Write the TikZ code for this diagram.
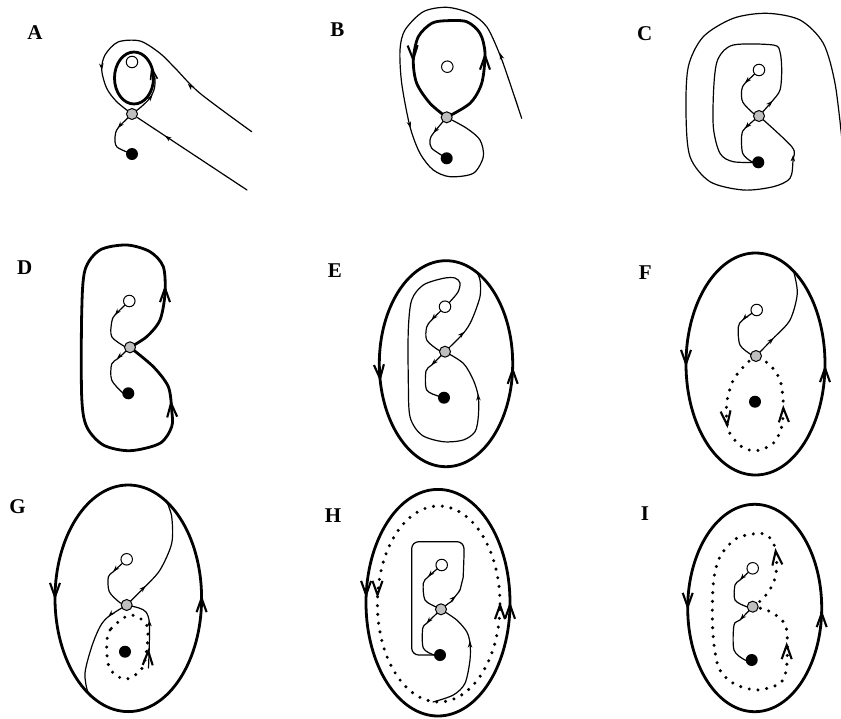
\documentclass[tikz,border=0pt]{standalone}
\usepackage{fontspec}
\setmainfont{Liberation Serif}
\usetikzlibrary{arrows.meta}
\pgfdeclarelayer{bg}
\pgfsetlayers{bg,main}
\tikzset{
  thinl/.style={line width=1.2pt, line cap=round, line join=round},
  thickl/.style={line width=2.8pt, line join=round},
  dotl/.style={line width=3.4pt, line cap=round, dash pattern=on 0pt off 8.8pt},
  mysarr/.tip={Stealth[length=6.5pt,width=4.5pt]},
  mybarb/.tip={Straight Barb[length=14pt,width=10pt,line width=2.1pt]},
  mysbarb/.tip={Straight Barb[length=11pt,width=7pt,line width=1.6pt]},
  tipS/.style={line width=0.8pt, -{mysarr}},
  tipB/.style={line width=1.2pt, -{mybarb}},
  tipb/.style={line width=1.2pt, -{mysbarb}},
  src/.style={circle, draw, fill=white, line width=1pt, minimum size=11.5pt, inner sep=0pt},
  sad/.style={circle, draw, fill=gray!50, line width=1pt, minimum size=11pt, inner sep=0pt},
  snk/.style={circle, fill=black, minimum size=12pt, inner sep=0pt},
  lab/.style={font=\fontsize{21}{21}\selectfont\bfseries, inner sep=0pt},
}
\begin{document}
\begin{tikzpicture}[x=1pt,y=-1pt]
\useasboundingbox (0,0) rectangle (841,718);
% ---------- labels
\node[lab] (LA) at (35,33) {A};
\node[lab] (LB) at (337.5,30) {B};
\node[lab] (LC) at (644.7,33.3) {C};
\node[lab] (LD) at (24.7,267.5) {D};
\node[lab] (LE) at (335,270.5) {E};
\node[lab] (LF) at (645.3,272.3) {F};
\node[lab] (LG) at (17.5,506.2) {G};
\node[lab] (LH) at (333,515.8) {H};
\node[lab] (LI) at (645,514) {I};
% ---------- fixed points
\node[src] (oA) at (132,62) {};   \node[sad] (sA) at (132,114) {};   \node[snk] (kA) at (132,154) {};
\node[src] (oB) at (447.3,66.7) {}; \node[sad] (sB) at (446.7,117.3) {}; \node[snk] (kB) at (446.7,158.3) {};
\node[src] (oC) at (759,70) {};   \node[sad] (sC) at (759,116) {};   \node[snk] (kC) at (758.3,162.3) {};
\node[src] (oD) at (129.3,301) {}; \node[sad] (sD) at (130,347.3) {}; \node[snk] (kD) at (128.3,393.3) {};
\node[src] (oE) at (445,306.7) {}; \node[sad] (sE) at (445,351.7) {}; \node[snk] (kE) at (444,397.7) {};
\node[src] (oF) at (756.7,310) {}; \node[sad] (sF) at (756,356) {};   \node[snk] (kF) at (755,401.7) {};
\node[src] (oG) at (126.7,559.3) {}; \node[sad] (sG) at (126.7,605) {}; \node[snk] (kG) at (125,651.7) {};
\node[src] (oH) at (441.7,565) {}; \node[sad] (sH) at (441,609.3) {}; \node[snk] (kH) at (440,655) {};
\node[src] (oI) at (752.7,568.3) {}; \node[sad] (sI) at (752.7,606.7) {}; \node[snk] (kI) at (751.7,660) {};

\begin{pgfonlayer}{bg}
% ================= A
\draw[thickl] (134,78) ellipse [x radius=19.5pt, y radius=26pt];
\draw[tipb] (151.8,68.5) -- (151.3,66);
\draw[thinl] plot[smooth] coordinates {(sA) (141,107) (150,98) (154.5,88) (155,78)};
\draw[tipS] (150.5,97.5) -- (152.5,95);
\draw[thinl] plot[smooth] coordinates {(251.7,131.7) (200,93.3) (175,68) (160,53.3) (140,41) (118,42) (105,55) (101.7,70) (106.7,88.3) (116.7,101.7) (sA)};
\draw[tipS] (190,86) -- (188,84);
\draw[tipS] (101.6,67) -- (101.8,70);
\draw[thinl] (247,190) -- (sA);
\draw[tipS] (167,137.2) -- (165,135.8);
\draw[thinl] plot[smooth] coordinates {(sA) (118,128) (115,137) (117,147) (kA)};
\draw[tipS] (120,125.5) -- (118,128);
% ================= B
\draw[thickl] plot[smooth] coordinates {(sB) (470,103.3) (481.7,83.3) (485,53.3) (480,33.3) (466.7,21.7) (446.7,20.7) (431.7,23.3) (418.3,36.7) (413.3,60) (416.7,83.3) (430,103.3) (sB)};
\draw[tipB] (485,55) -- (485,52.5);
\draw[tipB] (413.2,60) -- (413.3,62.5);
\draw[thinl] plot[smooth] coordinates {(521.7,118.3) (510,83.3) (500,55) (486.7,26.7) (470,13.3) (446.7,7.3) (423.3,11.7) (405,30) (400,50) (401.7,83.3) (410,126.7) (420,153.3) (433.3,170) (450,176.7) (473.3,173.3) (483.3,156.7) (480,140) (466.7,128.3) (sB)};
\draw[tipS] (501,56) -- (500,53);
\draw[tipS] (409.7,125) -- (410.5,128);
\draw[thinl] plot[smooth] coordinates {(sB) (433.3,133.3) (430,140) (431.7,148.3) (kB)};
\draw[tipS] (435.5,130.5) -- (433.5,133);
% ================= C
\draw[thinl] plot[smooth] coordinates {(oC) (745,83.3) (741.7,90) (742.7,102) (753.3,113.3) (sC)};
\draw[tipS] (747,81) -- (745,83);
\draw[thinl] plot[smooth] coordinates {(sC) (745,128.3) (741.7,135) (742.7,153.3) (751.7,161.7) (kC)};
\draw[tipS] (747,126.3) -- (745,128.5);
\draw[thinl] plot[smooth] coordinates {(sC) (771.7,101.7) (780,90) (781.7,70) (780,52) (773.3,45) (733.3,45) (718.3,58.3) (714,83.3) (713.3,126.7) (720,153.3) (733.3,161.7) (kC)};
\draw[tipS] (770.5,103) -- (772.5,101);
\draw[thinl] plot[smooth] coordinates {(842,140) (835,83.3) (823.3,43.3) (800,20) (766.7,13.3) (733.3,18.3) (703.3,36.7) (688.3,66.7) (686,113.3) (690,156.7) (710,181.7) (743.3,190) (773.3,186.7) (790,178.3) (793,160) (792,147) (sC)};
\draw[tipS] (793,158) -- (793.2,155);
% ================= D
\draw[thickl] plot[smooth] coordinates {(sD) (146.7,336.7) (160,320) (165,293.3) (163.3,266.7) (150,251.7) (126.7,245) (100,250) (85,270) (81.7,313.3) (81.7,396.7) (86.7,426.7) (103.3,445) (130,450.7) (160,443.3) (171.7,426.7) (171.7,410) (168.3,386.7) (153.3,366.7) (sD)};
\draw[tipB] (165,287.5) -- (165,285);
\draw[tipB] (171,402.5) -- (170.8,400);
\draw[thinl] plot[smooth] coordinates {(oD) (115,315) (111.7,322) (111.7,336.7) (125,346.7) (sD)};
\draw[tipS] (117,312.5) -- (115,315);
\draw[thinl] plot[smooth] coordinates {(sD) (118.3,358.3) (111.7,364) (111.7,380) (123.3,393.3) (kD)};
\draw[tipS] (119.5,356.3) -- (117,358.5);
% ================= E
\draw[thickl] (446,363.7) ellipse [x radius=66.7pt, y radius=103pt];
\draw[tipB] (380.1,379.2) -- (380.3,381.7);
\draw[tipB] (512.7,369.2) -- (512.7,366.7);
\draw[thinl] plot[smooth] coordinates {(oE) (450,301.7) (458,292) (460,283) (455,278) (443.3,278.3) (423.3,285) (411.7,300) (408.3,330) (408.3,380) (410,416.7) (421.7,435) (443.3,441.7) (463.3,440) (475,431.7) (478.3,416.7) (478.3,396.7) (473.3,380) (463.3,363.3) (sE)};
\draw[tipS] (478.3,397) -- (478.2,394);
\draw[thinl] plot[smooth] coordinates {(oE) (431.7,320) (426.7,327) (426.7,340) (438.3,350) (sE)};
\draw[tipS] (433.5,317.8) -- (431.5,320);
\draw[thinl] plot[smooth] coordinates {(sE) (431.7,365) (426,371) (426.7,390) (440,396.7) (kE)};
\draw[tipS] (433.5,363) -- (431.5,365);
\draw[thinl] plot[smooth] coordinates {(sE) (463.3,333.3) (471.7,320) (480,296.7) (480,280) (476,271)};
\draw[tipS] (462,334) -- (464,332);
% ================= F
\draw[thickl] (755.5,364) ellipse [x radius=69.5pt, y radius=111pt];
\draw[tipB] (686,364.5) -- (686,367);
\draw[tipB] (825,367.5) -- (825,365);
\draw[thinl] plot[smooth] coordinates {(oF) (742.7,320) (738.3,327) (740,345) (751.7,355) (sF)};
\draw[tipS] (744.7,317.8) -- (742.7,320);
\draw[thinl] plot[smooth] coordinates {(sF) (773.3,338.3) (790,320) (797.3,293.3) (793.3,270)};
\draw[tipS] (771.5,340) -- (773.5,338);
\draw[dotl] plot[smooth] coordinates {(sF) (746.7,363.3) (733.3,380) (726.7,403.3) (728.3,430) (741.7,446.7) (756.7,450.7) (773.3,443.3) (781.7,426.7) (783.3,403.3) (780,380) (770,365) (sF)};
\draw[tipB] (727.3,425.5) -- (727.6,428);
\draw[tipB] (783.3,407.5) -- (783.2,405);
% ================= G
\draw[thickl] (128.3,598.3) ellipse [x radius=73.3pt, y radius=113.3pt];
\draw[tipB] (55,597.5) -- (55,600);
\draw[tipB] (201.6,597.5) -- (201.6,595);
\draw[thinl] plot[smooth] coordinates {(oG) (113.3,571.7) (108.3,577) (109.3,591.7) (120,602.7) (sG)};
\draw[tipS] (115.3,569.5) -- (113.3,571.7);
\draw[thinl] plot[smooth] coordinates {(sG) (145,586.7) (160,570) (171.7,543.3) (171.7,516.7) (166,500)};
\draw[tipS] (143.5,588) -- (145.5,586);
\draw[thinl] plot[smooth] coordinates {(sG) (108.3,616.7) (100,626.7) (91.7,646.7) (85,673.3) (88.3,693.3) (96,700)};
\draw[tipS] (110.5,614.5) -- (108.5,616.5);
\draw[dotl] plot[smooth cycle] coordinates {(130,615) (110,630) (106.7,648) (110,669) (125,679.3) (141,670) (146.7,650) (146.7,625)};
\draw[thinl] plot[smooth] coordinates {(148.5,668) (149.3,645) (149.3,622) (146,612) (139,608) (sG)};
\draw[tipB] (148.3,650.5) -- (148.4,648);
\draw[tipS] (149.4,623) -- (149.3,620);
% ================= H
\draw[thickl] (438,602.7) ellipse [x radius=72pt, y radius=113.3pt];
\draw[dotl] (438.7,604) ellipse [x radius=61.3pt, y radius=98pt];
\draw[tipB] (366.1,595.5) -- (366.1,598);
\draw[tipB] (377.5,595.5) -- (377.5,598);
\draw[tipB] (510,604.2) -- (510,601.7);
\draw[tipB] (500,604.5) -- (500,602);
\draw[thinl, rounded corners=7pt] plot[smooth] coordinates {(sH) (455,596.7) (461.7,583.3) (464,560)} -- (464,541.7) -- (411.7,541.7) -- (411.7,655) -- (kH);
\draw[tipS] (453.5,598) -- (455.5,596);
\draw[thinl] plot[smooth] coordinates {(oH) (428.3,576.7) (423.3,583.3) (425,600) (436.7,607.3) (sH)};
\draw[tipS] (430.3,574.5) -- (428.3,576.7);
\draw[thinl] plot[smooth] coordinates {(sH) (426.7,623.3) (422.7,628.3) (423.3,648) (434,655) (kH)};
\draw[tipS] (428.7,621) -- (426.7,623.3);
\draw[thinl] plot[smooth] coordinates {(433,702) (453.3,695) (465,683.3) (470,660) (470,643.3) (466.7,631.7) (456.7,620) (sH)};
\draw[tipS] (470,644) -- (470,641);
% ================= I
\draw[thickl] (754.7,608) ellipse [x radius=67pt, y radius=103.7pt];
\draw[tipB] (687.7,607.5) -- (687.7,610);
\draw[tipB] (821.7,612.5) -- (821.7,610);
\draw[thinl] plot[smooth] coordinates {(oI) (740,580) (735,585) (735,600) (746.7,606.7) (sI)};
\draw[tipS] (742,577.8) -- (740,580);
\draw[thinl] plot[smooth] coordinates {(sI) (740,620) (734,625) (734,650) (745,660) (kI)};
\draw[tipS] (742,617.8) -- (740,620);
\draw[dotl] plot[smooth] coordinates {(sI) (763.3,598.3) (773.3,583.3) (776.7,566.7) (775,548) (770,538) (760,533.3) (736.7,538.3) (720,556.7) (713.3,583.3) (712.7,630) (718.3,666.7) (733.3,683.3) (756.7,690) (780,683.3) (786.7,666.7) (786.7,630) (780,618.3) (766.7,610) (sI)};
\draw[tipB] (775.6,550.5) -- (775.3,548);
\draw[tipB] (786.7,644.5) -- (786.7,642);
\end{pgfonlayer}
\end{tikzpicture}
\end{document}
